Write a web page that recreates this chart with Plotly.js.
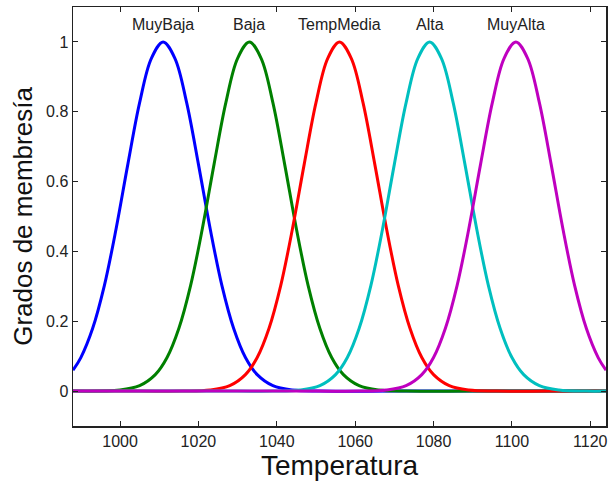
<!DOCTYPE html>
<html>
<head>
<meta charset="utf-8">
<script src="https://cdn.plot.ly/plotly-3.0.1.min.js"></script>
<style>html,body{margin:0;padding:0;background:#fff;}#chart{width:614px;height:481px;}</style>
</head>
<body>
<div id="chart"></div>
<script>
// Membership function labels (one per curve)
var labels = ["MuyBaja", "Baja", "TempMedia", "Alta", "MuyAlta"];
var peakCenters = [1011, 1033, 1056, 1079, 1101];

// Values (x = temperature, y = membership degree)
var muyBajaX = [988, 990, 993, 996, 999, 1002, 1005, 1008, 1011, 1014, 1017, 1020, 1023, 1026, 1029, 1032, 1035, 1039, 1044, 1051, 1070, 1090, 1110, 1124];
var muyBajaY = [0.060, 0.096, 0.179, 0.302, 0.465, 0.650, 0.826, 0.953, 1.000, 0.953, 0.826, 0.650, 0.465, 0.302, 0.179, 0.096, 0.047, 0.0155, 0.0031, 0, 0, 0, 0, 0];

var bajaX = [988, 1000, 1005, 1009, 1012, 1015, 1018, 1021, 1024, 1027, 1030, 1033, 1036, 1039, 1042, 1045, 1048, 1051, 1054, 1057, 1061, 1066, 1073, 1090, 1110, 1124];
var bajaY = [0, 0.0031, 0.0155, 0.047, 0.096, 0.179, 0.302, 0.465, 0.650, 0.826, 0.953, 1.000, 0.953, 0.826, 0.650, 0.465, 0.302, 0.179, 0.096, 0.047, 0.0155, 0.0031, 0, 0, 0, 0];

var tempMediaX = [988, 1005, 1016, 1023, 1028, 1032, 1035, 1038, 1041, 1044, 1047, 1050, 1053, 1056, 1059, 1062, 1065, 1068, 1071, 1074, 1077, 1080, 1084, 1089, 1096, 1110, 1124];
var tempMediaY = [0, 0, 0, 0.0031, 0.0155, 0.047, 0.096, 0.179, 0.302, 0.465, 0.650, 0.826, 0.953, 1.000, 0.953, 0.826, 0.650, 0.465, 0.302, 0.179, 0.096, 0.047, 0.0155, 0.0031, 0, 0, 0];

var altaX = [988, 1010, 1030, 1039, 1046, 1051, 1055, 1058, 1061, 1064, 1067, 1070, 1073, 1076, 1079, 1082, 1085, 1088, 1091, 1094, 1097, 1100, 1103, 1107, 1112, 1119, 1124];
var altaY = [0, 0, 0, 0, 0.0031, 0.0155, 0.047, 0.096, 0.179, 0.302, 0.465, 0.650, 0.826, 0.953, 1.000, 0.953, 0.826, 0.650, 0.465, 0.302, 0.179, 0.096, 0.047, 0.0155, 0.0031, 0, 0];

var muyAltaX = [988, 1010, 1030, 1050, 1061, 1068, 1073, 1077, 1080, 1083, 1086, 1089, 1092, 1095, 1098, 1101, 1104, 1107, 1110, 1113, 1116, 1119, 1122, 1124];
var muyAltaY = [0, 0, 0, 0, 0, 0.0031, 0.0155, 0.047, 0.096, 0.179, 0.302, 0.465, 0.650, 0.826, 0.953, 1.000, 0.953, 0.826, 0.650, 0.465, 0.302, 0.179, 0.096, 0.060];

var xTicks = [1000, 1020, 1040, 1060, 1080, 1100, 1120];
var yTicks = [0, 0.2, 0.4, 0.6, 0.8, 1];
var yTickText = ["0", "0.2", "0.4", "0.6", "0.8", "1"];

var colors = ["#0000FF", "#008000", "#FF0000", "#00BFBF", "#BF00BF"];
var xs = [muyBajaX, bajaX, tempMediaX, altaX, muyAltaX];
var ys = [muyBajaY, bajaY, tempMediaY, altaY, muyAltaY];

var font = "Liberation Sans, Arial, Helvetica, sans-serif";

var traces = labels.map(function (name, i) {
  return {
    x: xs[i], y: ys[i], name: name, type: "scatter", mode: "lines",
    line: {color: colors[i], width: 3, shape: "spline", smoothing: 1},
    hoverinfo: "x+y+name"
  };
});

var annotations = labels.map(function (name, i) {
  return {
    x: peakCenters[i], y: 1.049, xref: "x", yref: "y", text: name,
    showarrow: false, font: {family: font, size: 16, color: "#222"}
  };
});

var layout = {
  width: 614, height: 481,
  margin: {l: 73, r: 8, t: 7, b: 55},
  paper_bgcolor: "#fff", plot_bgcolor: "#fff",
  showlegend: false,
  font: {family: font, color: "#222"},
  xaxis: {
    range: [988, 1124], tickvals: xTicks, ticks: "inside", ticklen: 5,
    tickwidth: 1, tickcolor: "#222",
    showline: true, linecolor: "#222", linewidth: 1.5, mirror: "ticks",
    showgrid: false, zeroline: false,
    tickfont: {family: font, size: 16, color: "#222"},
    title: {text: "Temperatura", font: {family: font, size: 28, color: "#111"}, standoff: 0},
    automargin: false
  },
  yaxis: {
    range: [-0.1, 1.1], tickvals: yTicks, ticktext: yTickText, ticks: "inside", ticklen: 5,
    tickwidth: 1, tickcolor: "#222",
    showline: true, linecolor: "#222", linewidth: 1.5, mirror: "ticks",
    showgrid: false, zeroline: false,
    tickfont: {family: font, size: 16, color: "#222"},
    title: {text: "Grados de membresía", font: {family: font, size: 26, color: "#111"}, standoff: 6},
    automargin: false
  },
  annotations: annotations
};

Plotly.newPlot("chart", traces, layout, {displayModeBar: false, staticPlot: true});
</script>
</body>
</html>
